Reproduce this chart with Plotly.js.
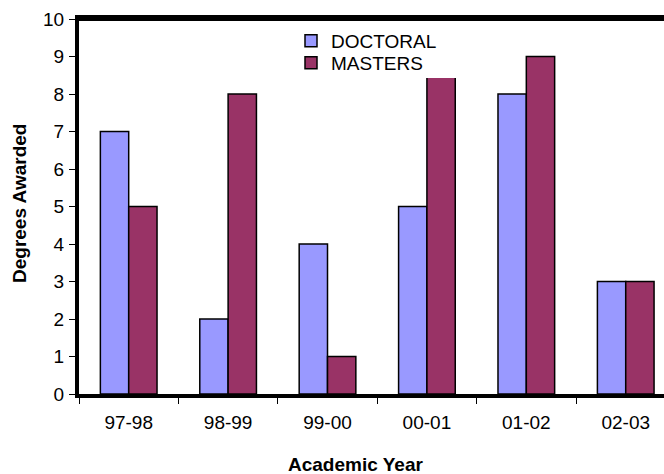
<!DOCTYPE html>
<html>
<head>
<meta charset="utf-8">
<script src="https://cdn.plot.ly/plotly-3.0.1.min.js"></script>
<style>html,body{margin:0;padding:0;background:#fff;}#chart{width:664px;height:474px;}</style>
</head>
<body>
<div id="chart"></div>
<script>
const categories = ["97-98", "98-99", "99-00", "00-01", "01-02", "02-03"];
const doctoral = [7, 2, 4, 5, 8, 3];
const masters = [5, 8, 1, 10, 9, 3];
const yTicks = [0, 1, 2, 3, 4, 5, 6, 7, 8, 9, 10];

const FONT = "Arial, 'Liberation Sans', sans-serif";
// plot area geometry helpers (pixels -> paper)
const L = 79, T = 19, W = 585, H = 375;
const px = v => (v - L) / W;
const py = v => (T + H - v) / H;

const traces = [
  {type: "bar", name: "DOCTORAL", x: categories, y: doctoral, legend: "legend",
   marker: {color: "#9999FF", line: {color: "#000000", width: 1.5}}},
  {type: "bar", name: "MASTERS", x: categories, y: masters, legend: "legend2",
   marker: {color: "#993366", line: {color: "#000000", width: 1.5}}}
];

const legendCommon = {xanchor: "left", yanchor: "middle", bgcolor: "rgba(0,0,0,0)", borderwidth: 0,
                      font: {family: FONT, size: 19, color: "#000"}, itemwidth: 30};

const layout = {
  width: 664, height: 474,
  margin: {l: 79, r: 0, t: 19, b: 80},
  paper_bgcolor: "#ffffff", plot_bgcolor: "#ffffff",
  font: {family: FONT, size: 19, color: "#000000"},
  barmode: "group", bargap: 0.43, bargroupgap: 0,
  showlegend: true,
  legend: Object.assign({x: px(291), y: py(41)}, legendCommon),
  legend2: Object.assign({x: px(291), y: py(63)}, legendCommon),
  xaxis: {type: "category", range: [-0.5, 5.385], showline: true, linewidth: 4, linecolor: "#000",
          mirror: true, ticks: "outside", ticklen: 6, tickwidth: 1, tickcolor: "#000",
          tickson: "boundaries", showgrid: false, zeroline: false,
          tickfont: {family: FONT, size: 19}, ticklabelstandoff: 8, fixedrange: true},
  yaxis: {range: [0, 10], tickvals: yTicks, showline: true, linewidth: 4, linecolor: "#000",
          ticks: "outside", ticklen: 6, tickwidth: 1, tickcolor: "#000",
          showgrid: false, zeroline: false, tickfont: {family: FONT, size: 19},
          ticklabelstandoff: 1, fixedrange: true},
  shapes: [
    {type: "rect", xref: "paper", yref: "paper", layer: "above",
     x0: px(300), x1: px(470), y0: py(78), y1: py(17),
     fillcolor: "#ffffff", line: {width: 0}},
    {type: "line", xref: "paper", yref: "paper", layer: "above",
     x0: px(77), x1: 1, y0: 1, y1: 1, line: {color: "#000000", width: 4}}
  ],
  annotations: [
    {text: "<b>Academic Year</b>", xref: "paper", yref: "paper", x: px(355.5), y: py(464),
     xanchor: "center", yanchor: "middle", showarrow: false, font: {family: FONT, size: 19}},
    {text: "<b>Degrees Awarded</b>", xref: "paper", yref: "paper", x: px(20), y: py(204),
     xanchor: "center", yanchor: "middle", textangle: -90, showarrow: false, font: {family: FONT, size: 19}}
  ]
};

Plotly.newPlot("chart", traces, layout, {displayModeBar: false, staticPlot: true});
</script>
</body>
</html>
